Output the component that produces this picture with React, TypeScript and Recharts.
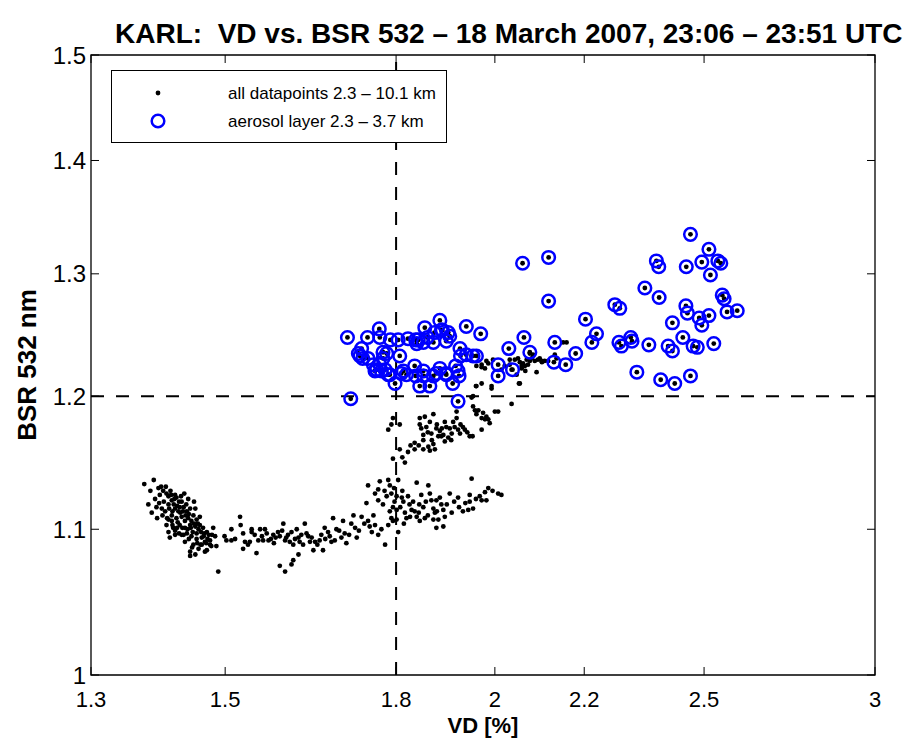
import React from 'react';
import { ScatterChart, Scatter, XAxis, YAxis, ReferenceLine, ReferenceArea, Legend, Label } from 'recharts';

const TITLE = 'KARL:  VD vs. BSR 532 \u2013 18 March 2007, 23:06 \u2013 23:51 UTC';
const X_LABEL = 'VD [%]';
const Y_LABEL = 'BSR 532 nm';
const LEGEND_ALL = 'all datapoints 2.3 \u2013 10.1 km';
const LEGEND_AEROSOL = 'aerosol layer 2.3 \u2013 3.7 km';

const xTicks = [1.3, 1.5, 1.8, 2, 2.2, 2.5, 3];
const yTicks = [1, 1.1, 1.2, 1.3, 1.4, 1.5];
const xDomain = [1.3, 3];
const yDomain = [1, 1.5];
const vdThreshold = 1.8;
const bsrThreshold = 1.2;

// [VD %, BSR 532]
const lowerCluster: [number, number][] = [
  [1.376,1.133],[1.390,1.136],[1.382,1.118],[1.397,1.130],[1.404,1.128],[1.399,1.125],[1.409,1.126],[1.394,1.116],[1.402,1.115],[1.412,1.124],
  [1.417,1.121],[1.422,1.125],[1.424,1.123],[1.436,1.126],[1.442,1.122],[1.432,1.120],[1.412,1.118],[1.407,1.113],[1.417,1.110],[1.422,1.115],
  [1.427,1.113],[1.435,1.116],[1.440,1.113],[1.445,1.115],[1.453,1.115],[1.412,1.107],[1.409,1.103],[1.417,1.106],[1.424,1.108],[1.432,1.109],
  [1.437,1.106],[1.442,1.108],[1.450,1.110],[1.455,1.107],[1.460,1.109],[1.412,1.098],[1.419,1.101],[1.429,1.103],[1.437,1.101],[1.445,1.103],
  [1.453,1.102],[1.460,1.103],[1.465,1.101],[1.471,1.098],[1.479,1.096],[1.484,1.095],[1.414,1.094],[1.422,1.096],[1.432,1.096],[1.440,1.097],
  [1.447,1.095],[1.455,1.097],[1.463,1.094],[1.468,1.091],[1.476,1.092],[1.481,1.101],[1.437,1.091],[1.450,1.089],[1.458,1.086],[1.463,1.089],
  [1.471,1.085],[1.476,1.089],[1.445,1.084],[1.453,1.082],[1.445,1.081],[1.468,1.084],[1.486,1.088],[1.489,1.070],[1.499,1.095],[1.502,1.092],
  [1.510,1.100],[1.516,1.093],[1.524,1.109],[1.525,1.103],[1.529,1.097],[1.532,1.091],[1.540,1.091],[1.543,1.100],[1.537,1.089],[1.529,1.086],
  [1.510,1.092],[1.405,1.120],[1.415,1.128],[1.420,1.118],[1.428,1.120],[1.430,1.112],[1.438,1.110],[1.426,1.105],[1.433,1.101],[1.447,1.106],
  [1.441,1.100],[1.449,1.098],[1.458,1.100],[1.466,1.095],[1.472,1.093],[1.461,1.089],[1.418,1.113],[1.410,1.108],[1.403,1.110],[1.422,1.099],
  [1.455,1.093],[1.385,1.128],[1.392,1.122],[1.398,1.119],[1.401,1.131],[1.408,1.131],[1.413,1.115],[1.416,1.125],[1.421,1.122],[1.425,1.117],
  [1.429,1.116],[1.431,1.124],[1.434,1.113],[1.439,1.118],[1.443,1.111],[1.446,1.101],[1.451,1.104],[1.457,1.104],[1.462,1.098],[1.467,1.097],
  [1.470,1.090],[1.474,1.096],[1.478,1.088],[1.443,1.093],[1.448,1.087],[1.456,1.090],[1.425,1.101],[1.418,1.103],[1.428,1.097],[1.435,1.096],
  [1.451,1.120],[1.395,1.108],[1.387,1.112],
];

const lowerBand: [number, number][] = [
  [1.543,1.098],[1.548,1.096],[1.554,1.092],[1.551,1.083],[1.557,1.100],[1.565,1.100],[1.562,1.092],[1.571,1.092],[1.579,1.096],[1.587,1.098],
  [1.596,1.104],[1.590,1.095],[1.599,1.092],[1.604,1.096],[1.607,1.091],[1.613,1.089],[1.610,1.098],[1.619,1.100],[1.622,1.094],[1.624,1.091],
  [1.630,1.089],[1.633,1.104],[1.636,1.097],[1.639,1.095],[1.642,1.091],[1.648,1.085],[1.651,1.091],[1.659,1.092],[1.662,1.096],[1.665,1.085],
  [1.674,1.098],[1.680,1.091],[1.683,1.108],[1.689,1.100],[1.698,1.094],[1.701,1.106],[1.707,1.090],[1.720,1.110],[1.723,1.101],[1.726,1.094],
  [1.735,1.109],[1.744,1.119],[1.747,1.106],[1.750,1.102],[1.754,1.098],[1.760,1.103],[1.766,1.096],[1.779,1.089],[1.590,1.074],[1.599,1.070],
  [1.610,1.075],[1.613,1.078],[1.622,1.082],[1.560,1.095],[1.568,1.097],[1.575,1.093],[1.583,1.094],[1.594,1.099],[1.601,1.094],[1.616,1.093],
  [1.627,1.096],[1.645,1.094],[1.655,1.089],[1.669,1.093],[1.677,1.095],[1.686,1.092],[1.694,1.099],[1.712,1.096],[1.716,1.104],[1.730,1.099],
  [1.740,1.104],[1.757,1.110],[1.772,1.100],[1.580,1.090],[1.668,1.101],[1.704,1.097],
];

const midBand: [number, number][] = [
  [1.747,1.132],[1.760,1.126],[1.766,1.129],[1.769,1.135],[1.766,1.121],[1.775,1.118],[1.782,1.124],[1.785,1.136],[1.788,1.132],[1.791,1.126],
  [1.794,1.116],[1.788,1.113],[1.791,1.108],[1.794,1.106],[1.801,1.107],[1.801,1.114],[1.804,1.136],[1.801,1.124],[1.804,1.098],[1.785,1.103],
  [1.811,1.123],[1.814,1.120],[1.817,1.112],[1.820,1.108],[1.823,1.124],[1.827,1.109],[1.833,1.120],[1.836,1.113],[1.840,1.134],[1.840,1.109],
  [1.846,1.106],[1.849,1.125],[1.853,1.116],[1.856,1.108],[1.863,1.132],[1.869,1.121],[1.873,1.115],[1.873,1.107],[1.876,1.112],[1.879,1.121],
  [1.886,1.123],[1.889,1.118],[1.893,1.114],[1.896,1.109],[1.893,1.102],[1.879,1.101],[1.906,1.126],[1.910,1.112],[1.923,1.123],[1.933,1.113],
  [1.944,1.114],[1.947,1.125],[1.947,1.120],[1.951,1.137],[1.954,1.115],[1.968,1.124],[1.972,1.121],[1.979,1.127],[1.986,1.130],[1.982,1.121],
  [2.007,1.126],[2.014,1.125],[1.883,1.107],[1.778,1.128],[1.796,1.130],[1.808,1.116],[1.812,1.128],[1.826,1.118],[1.830,1.114],[1.845,1.118],
  [1.858,1.120],[1.866,1.126],[1.880,1.113],[1.900,1.118],[1.915,1.120],[1.925,1.116],[1.938,1.119],[1.960,1.122],[1.995,1.128],[1.844,1.112],
  [1.862,1.110],[1.797,1.120],[1.815,1.104],
];

const upperBand: [number, number][] = [
  [1.794,1.183],[1.791,1.178],[1.785,1.174],[1.807,1.178],[1.807,1.159],[1.794,1.152],[1.817,1.149],[1.823,1.157],[1.836,1.159],[1.836,1.164],
  [1.846,1.183],[1.856,1.184],[1.873,1.186],[1.846,1.178],[1.849,1.175],[1.866,1.180],[1.859,1.176],[1.853,1.170],[1.853,1.166],[1.863,1.161],
  [1.853,1.159],[1.873,1.163],[1.876,1.159],[1.869,1.171],[1.879,1.175],[1.886,1.173],[1.883,1.169],[1.893,1.170],[1.896,1.180],[1.899,1.176],
  [1.906,1.175],[1.903,1.168],[1.910,1.171],[1.916,1.176],[1.920,1.183],[1.920,1.188],[1.923,1.174],[1.933,1.176],[1.937,1.174],[1.927,1.171],
  [1.947,1.169],[1.953,1.169],[1.889,1.169],[1.896,1.165],[1.954,1.192],[1.958,1.189],[1.965,1.189],[1.961,1.186],[1.972,1.183],[1.975,1.187],
  [1.982,1.184],[1.986,1.182],[1.989,1.179],[2.000,1.188],[2.007,1.188],[1.972,1.174],[1.979,1.182],[2.036,1.194],[1.951,1.199],[1.862,1.172],
  [1.870,1.166],[1.880,1.178],[1.890,1.175],[1.909,1.166],[1.913,1.180],[1.928,1.178],[1.942,1.172],[1.866,1.158],[1.844,1.162],[1.828,1.162],
  [1.812,1.153],
];

const rightBand: [number, number][] = [
  [1.982,1.228],[1.986,1.226],[1.996,1.229],[1.972,1.225],[1.979,1.222],[1.961,1.208],[1.972,1.210],[1.993,1.208],[2.032,1.229],[2.043,1.229],
  [2.050,1.230],[2.054,1.227],[2.058,1.224],[2.061,1.226],[2.069,1.229],[2.072,1.225],[2.076,1.228],[2.080,1.230],[2.087,1.228],[2.094,1.229],
  [2.098,1.230],[2.103,1.227],[2.109,1.228],[2.117,1.228],[2.047,1.217],[2.052,1.210],[2.066,1.220],[2.091,1.219],[2.076,1.234],[2.083,1.233],
  [2.021,1.224],[2.014,1.221],[2.032,1.225],[2.036,1.221],[2.058,1.222],[2.065,1.224],[2.151,1.243],[2.159,1.243],[2.132,1.233],[2.136,1.230],
  [2.102,1.228],[1.993,1.206],[2.054,1.210],[1.954,1.200],[1.960,1.208],[1.961,1.224],[1.972,1.223],
];

const aerosolLayer: [number, number][] = [
  [1.709,1.247],[1.715,1.198],[1.746,1.247],[1.768,1.254],[1.769,1.247],[1.735,1.238],[1.729,1.234],[1.737,1.230],[1.747,1.230],[1.757,1.225],
  [1.760,1.220],[1.775,1.235],[1.775,1.230],[1.769,1.225],[1.779,1.221],[1.788,1.217],[1.798,1.210],[1.789,1.245],[1.804,1.245],[1.807,1.232],
  [1.810,1.218],[1.820,1.217],[1.823,1.246],[1.836,1.224],[1.838,1.245],[1.840,1.242],[1.846,1.208],[1.838,1.216],[1.854,1.216],[1.856,1.255],
  [1.861,1.247],[1.866,1.208],[1.873,1.216],[1.873,1.243],[1.879,1.218],[1.886,1.261],[1.889,1.253],[1.899,1.244],[1.903,1.251],[1.898,1.218],
  [1.912,1.210],[1.918,1.224],[1.923,1.196],[1.927,1.238],[1.923,1.220],[1.928,1.232],[1.940,1.256],[1.940,1.233],[1.954,1.232],[1.961,1.232],
  [1.970,1.250],[2.007,1.225],[2.007,1.216],[2.030,1.238],[2.038,1.221],[2.060,1.309],[2.063,1.247],[2.076,1.235],[2.118,1.314],[2.118,1.277],
  [2.132,1.243],[2.130,1.227],[2.157,1.225],[2.180,1.234],[2.203,1.262],[2.229,1.250],[2.218,1.243],[2.273,1.274],[2.285,1.271],[2.283,1.243],
  [2.289,1.240],[2.312,1.247],[2.315,1.244],[2.327,1.219],[2.347,1.288],[2.357,1.241],[2.376,1.311],[2.382,1.306],[2.383,1.280],[2.387,1.213],
  [2.406,1.240],[2.417,1.259],[2.417,1.236],[2.423,1.210],[2.444,1.247],[2.452,1.273],[2.456,1.267],[2.453,1.306],[2.464,1.216],[2.464,1.334],
  [2.471,1.240],[2.482,1.239],[2.487,1.263],[2.494,1.310],[2.494,1.257],[2.513,1.321],[2.517,1.299],[2.513,1.265],[2.526,1.242],[2.537,1.311],
  [2.545,1.309],[2.549,1.282],[2.554,1.279],[2.562,1.268],[2.590,1.269],[1.782,1.234],[1.785,1.217],[1.814,1.220],[1.853,1.220],[1.886,1.222],
  [1.899,1.217],[1.925,1.216],[1.843,1.245],[1.853,1.243],[1.875,1.251],[1.891,1.253],[1.906,1.248],[1.763,1.221],[1.732,1.232],[1.772,1.220],
];

const toPoints = (arr: [number, number][]) => arr.map(([vd, bsr]) => ({ vd, bsr }));
const allData = toPoints([...lowerCluster, ...lowerBand, ...midBand, ...upperBand, ...rightBand, ...aerosolLayer]);
const aerosolData = toPoints(aerosolLayer);

const W = 914;
const H = 738;
const M = { top: 55, right: 39, bottom: 0, left: 0 };
const Y_AXIS_W = 91;
const X_AXIS_H = 63;
const PLOT_TOP = M.top;
const PLOT_BOTTOM = H - X_AXIS_H;
const PLOT_LEFT = Y_AXIS_W;
const PLOT_RIGHT = W - M.right;
const TICK_LEN = 8;
const FONT = '"Liberation Sans", Arial, Helvetica, sans-serif';
const BLUE = '#0000ff';
const DOT_R = 2.4;
const RING_R = 6.3;
const RING_W = 2.5;

const XTick = (props: any) => {
  const { x, payload } = props;
  return (
    <g>
      <line x1={x} x2={x} y1={PLOT_BOTTOM} y2={PLOT_BOTTOM - TICK_LEN} stroke="#000" strokeWidth={1} />
      <line x1={x} x2={x} y1={PLOT_TOP} y2={PLOT_TOP + TICK_LEN} stroke="#000" strokeWidth={1} />
      <text x={x} y={PLOT_BOTTOM + 32} textAnchor="middle" fontSize={22} fontFamily={FONT} fill="#000">
        {String(payload.value)}
      </text>
    </g>
  );
};

const YTick = (props: any) => {
  const { y, payload } = props;
  return (
    <g>
      <line x1={PLOT_LEFT} x2={PLOT_LEFT + TICK_LEN} y1={y} y2={y} stroke="#000" strokeWidth={1} />
      <line x1={PLOT_RIGHT} x2={PLOT_RIGHT - TICK_LEN} y1={y} y2={y} stroke="#000" strokeWidth={1} />
      <text x={PLOT_LEFT - 5} y={y} dy="0.36em" textAnchor="end" fontSize={24} fontFamily={FONT} fill="#000">
        {String(payload.value)}
      </text>
    </g>
  );
};

const DotShape = (props: any) => <circle cx={props.cx} cy={props.cy} r={DOT_R} fill="#000" />;
const RingShape = (props: any) => (
  <circle cx={props.cx} cy={props.cy} r={RING_R} fill="none" stroke={BLUE} strokeWidth={RING_W} />
);

const LegendBox = () => (
  <svg width={336} height={73} style={{ display: 'block' }}>
    <rect x={0.5} y={0.5} width={335} height={72} fill="#fff" stroke="#000" strokeWidth={1} />
    <circle cx={47} cy={23} r={DOT_R} fill="#000" />
    <circle cx={47} cy={51} r={RING_R} fill="none" stroke={BLUE} strokeWidth={RING_W} />
    <text x={117} y={29} fontSize={17} fontFamily={FONT} fill="#000">{LEGEND_ALL}</text>
    <text x={117} y={57} fontSize={17} fontFamily={FONT} fill="#000">{LEGEND_AEROSOL}</text>
  </svg>
);

export default function App() {
  return (
    <div style={{ position: 'absolute', left: 0, top: 0, width: W, height: H, background: '#fff' }}>
      <div
        style={{
          position: 'absolute', left: 115, top: 17,
          fontFamily: FONT, fontWeight: 'bold', fontSize: 28, lineHeight: '34px',
          whiteSpace: 'pre', color: '#000',
        }}
      >
        {TITLE}
      </div>
      <ScatterChart width={W} height={H} margin={M}>
        <XAxis
          type="number" dataKey="vd" scale="log" domain={xDomain} ticks={xTicks} allowDataOverflow
          interval={0} height={X_AXIS_H} axisLine={false} tickLine={false} tick={<XTick />}
        >
          <Label
            content={() => (
              <text x={(PLOT_LEFT + PLOT_RIGHT) / 2} y={PLOT_BOTTOM + 58} textAnchor="middle"
                fontSize={22} fontWeight="bold" fontFamily={FONT} fill="#000">{X_LABEL}</text>
            )}
          />
        </XAxis>
        <YAxis
          type="number" dataKey="bsr" scale="log" domain={yDomain} ticks={yTicks} allowDataOverflow
          interval={0} width={Y_AXIS_W} axisLine={false} tickLine={false} tick={<YTick />}
        >
          <Label
            content={() => (
              <text transform={`translate(27, ${(PLOT_TOP + PLOT_BOTTOM) / 2}) rotate(-90)`} textAnchor="middle"
                dy="0.36em" fontSize={26} fontWeight="bold" fontFamily={FONT} fill="#000">{Y_LABEL}</text>
            )}
          />
        </YAxis>
        <ReferenceLine x={vdThreshold} stroke="#000" strokeWidth={2} strokeDasharray="13 12" />
        <ReferenceLine y={bsrThreshold} stroke="#000" strokeWidth={2} strokeDasharray="13 12" />
        <Scatter name="all" data={allData} shape={DotShape} isAnimationActive={false} />
        <Scatter name="aerosol" data={aerosolData} shape={RingShape} isAnimationActive={false} />
        <ReferenceArea x1={xDomain[0]} x2={xDomain[1]} y1={yDomain[0]} y2={yDomain[1]} fill="none" stroke="#000" strokeWidth={1.3} />
        <Legend
          verticalAlign="middle" align="center" layout="horizontal"
          wrapperStyle={{ left: 111, top: 70, width: 336, height: 73 }}
          content={() => <LegendBox />}
        />
      </ScatterChart>
    </div>
  );
}
